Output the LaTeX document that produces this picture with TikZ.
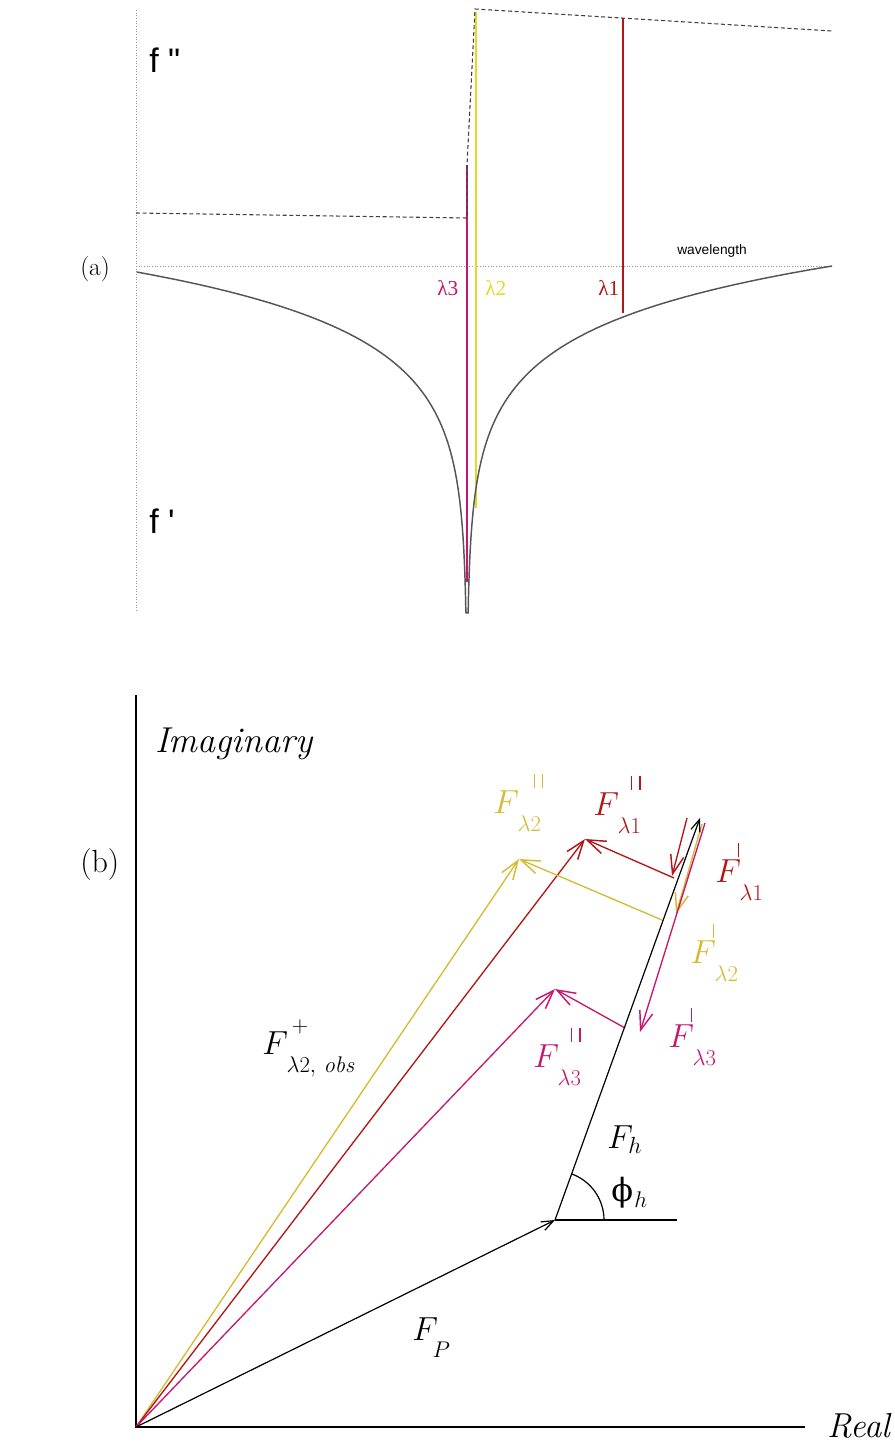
\RequirePackage{fix-cm}
\documentclass[tikz,border=0pt]{standalone}
\usepackage{fontspec}
\usetikzlibrary{arrows.meta}
\newfontfamily\sansA{Liberation Sans}
\newfontfamily\serifA{Liberation Serif}
\newfontfamily\serifD{DejaVu Serif}
\definecolor{magA}{RGB}{200,22,110}
\definecolor{yelA}{RGB}{230,216,40}
\definecolor{yelB}{RGB}{214,186,48}
\definecolor{redA}{RGB}{178,22,22}
\definecolor{curveg}{RGB}{85,85,85}
\newcommand{\tk}{\rule{0.9pt}{10pt}}
\newcommand{\ttk}{\tk\kern5.5pt\tk}
% #1 subscript, #2 kern before ticks, #3 ticks
\newcommand{\Flab}[3]{\hbox{$F$\kern-1pt\rlap{\raisebox{-14pt}{\fontsize{17}{17}\selectfont$#1$}}\kern#2\raisebox{19pt}{#3}}}
\begin{document}
\begin{tikzpicture}[x=0.75pt,y=-0.75pt,
  axisdot/.style={gray!80, line width=0.6pt, dash pattern=on 0.8pt off 1.2pt},
  dashline/.style={black!75, line width=0.8pt, dash pattern=on 3pt off 2pt},
  fcurve/.style={curveg, line width=1.1pt},
  bar/.style={line width=1.7pt},
  vec/.style={line width=1pt, -{Straight Barb[length=14pt,width=10pt,line width=1.1pt]}},
  bvec/.style={line width=0.9pt, -{Straight Barb[length=9pt,width=7pt]}},
  lab/.style={inner sep=0pt, anchor=base west},
  flab/.style={inner sep=0pt, anchor=base west, font=\fontsize{25}{30}\selectfont}]
\useasboundingbox (0,0) rectangle (894,1448);

% ---------------- (a) ----------------
\coordinate (aTop) at (136,10);
\coordinate (aBot) at (136,612);
\coordinate (aL) at (136,266);
\coordinate (aR) at (832,266);
\draw[axisdot] (aTop) -- (aBot);
\draw[axisdot] (aL) -- (aR);

\coordinate (m3t) at (467,165);
\coordinate (m3b) at (467,582);
\coordinate (y2t) at (476,12);
\coordinate (y2b) at (476,508);
\coordinate (r1t) at (623,18);
\coordinate (r1b) at (623,313);
\draw[bar, magA] (m3t) -- (m3b);
\draw[bar, yelA] (y2t) -- (y2b);
\draw[bar, redA] (r1t) -- (r1b);

\coordinate (d0) at (136,213);
\coordinate (d1) at (467,218);
\coordinate (d2) at (475,9);
\coordinate (d3) at (832,31);
\draw[dashline] (d0) -- (d1) -- (m3t) -- (d2) -- (d3);

\draw[fcurve] plot[domain=5.8:0.12, samples=90] ({467-exp(\x)},{620-60*\x})
  -- plot[domain=0.12:5.9, samples=90] ({467+exp(\x)},{620-60*\x});

\node[lab, font=\sansA\fontsize{25.5}{30}\selectfont] (fpp) at (149,73) {f \symbol{34}};
\node[lab, font=\sansA\fontsize{25.5}{30}\selectfont] (fp) at (149,533) {f \symbol{39}};
\node[lab, font=\fontsize{19}{22}\selectfont] (alab) at (80,275) {(a)};
\node[lab, font=\sansA\fontsize{10.3}{12}\selectfont] (wl) at (677,254) {wavelength};
\node[lab, font=\serifA\fontsize{16}{18}\selectfont, text=magA] (l3) at (437,296) {λ3};
\node[lab, font=\serifA\fontsize{16}{18}\selectfont, text=yelA] (l2) at (485,296) {λ2};
\node[lab, font=\serifA\fontsize{16}{18}\selectfont, text=redA] (l1) at (598,296) {λ1};

% ---------------- (b) ----------------
\coordinate (O) at (136,1427);
\coordinate (imTop) at (136,695);
\coordinate (reEnd) at (805,1427);
\draw[line width=0.9pt] (imTop) -- (O) -- (reEnd);

\coordinate (P) at (555,1220);
\coordinate (H) at (677,1220);
\coordinate (T) at (700,818);
\coordinate (R1) at (585,839);
\coordinate (Y2) at (519,859);
\coordinate (M3) at (555,989);

% resultants
\draw[vec, yelB] (O) -- (Y2);
\draw[vec, redA] (O) -- (R1);
\draw[vec, magA] (O) -- (M3);

% F' components
\coordinate (r1s) at (687,818);
\coordinate (r1e) at (672,876);
\coordinate (y2s) at (702,824);
\coordinate (y2e) at (676,914);
\coordinate (m3s) at (705,823);
\coordinate (m3e) at (640,1032);
\draw[vec, redA] (r1s) -- (r1e);
\draw[vec, yelB] (y2s) -- (y2e);
\draw[vec, magA] (m3s) -- (m3e);

% F'' components
\coordinate (a1) at (674,878);
\coordinate (a2) at (662,920);
\coordinate (a3) at (625,1028);
\draw[vec, redA] (a1) -- (R1);
\draw[vec, yelB] (a2) -- (Y2);
\draw[vec, magA] (a3) -- (M3);

% black vectors
\draw[bvec] (O) -- (P);
\draw[bvec] (P) -- (T);
\draw[line width=0.9pt] (P) -- (H);
\draw[line width=0.9pt] (P) ++(49,0) arc[start angle=0, end angle=-70, radius=49];

% labels
\node[lab, font=\itshape\fontsize{27}{32}\selectfont] (imag) at (155,752) {Imaginary};
\node[lab, font=\itshape\fontsize{26}{32}\selectfont] (real) at (827,1437) {Real};
\node[lab, font=\fontsize{24}{30}\selectfont] (blab) at (80,872) {(b)};

\node[flab, text=yelB] (Lpp2) at (493,813) {\Flab{\lambda 2}{12pt}{\ttk}};
\node[flab, text=redA] (Lpp1) at (593,815) {\Flab{\lambda 1}{10pt}{\ttk}};
\node[flab, text=redA] (Lp1) at (715,882) {\Flab{\lambda 1}{-1pt}{\tk}};
\node[flab, text=yelB] (Lp2) at (690,963) {\Flab{\lambda 2}{-1pt}{\tk}};
\node[flab, text=magA] (Lp3) at (668,1047) {\Flab{\lambda 3}{-1pt}{\tk}};
\node[flab, text=magA] (Lpp3) at (533,1067) {\Flab{\lambda 3}{10pt}{\ttk}};
\node[flab] (Lobs) at (262,1054) {\hbox{$F$\kern-1pt\rlap{\raisebox{-14pt}{\fontsize{17}{17}\selectfont$\lambda 2,\,\mathit{obs}$}}\kern 4pt\raisebox{16pt}{\fontsize{17}{17}\selectfont$+$}}};
\node[flab] (LP) at (412,1340) {\hbox{$F$\kern-4pt\raisebox{-13pt}{\fontsize{17}{17}\selectfont$P$}}};
\node[flab] (Lh) at (607,1148) {$F_h$};
\node[flab] (Lphi) at (611,1201) {\hbox{{\serifD\fontsize{24}{28}\selectfont ϕ}\kern1pt\raisebox{-5pt}{\fontsize{17}{17}\selectfont$h$}}};
\end{tikzpicture}
\end{document}
